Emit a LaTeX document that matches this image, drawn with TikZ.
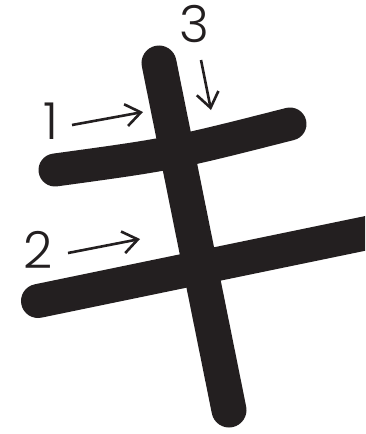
\documentclass[tikz,border=0pt]{standalone}
\usepackage{fontspec}
\setmainfont{Poppins Light}
\usetikzlibrary{arrows.meta}
\definecolor{ink}{HTML}{231F20}
\begin{document}
\begin{tikzpicture}[x=1pt,y=-1pt,
  stroke/.style={line width=34pt, line cap=round, draw=ink},
  pointer/.style={line width=2.6pt, draw=ink, -{Straight Barb[length=15pt,width=22pt]}},
  digit/.style={text=ink, font=\fontsize{51}{51}\selectfont, inner sep=0pt}]
\useasboundingbox (0,0) rectangle (365,434);
\clip (0,0) rectangle (365,434);
% stroke end points
\coordinate (s1a) at (55,170);
\coordinate (s1b) at (290,124);
\coordinate (s2a) at (38,301);
\coordinate (s2b) at (372,232);
\coordinate (s3a) at (159,63);
\coordinate (s3b) at (229,410);
% strokes
\draw[stroke, line width=33pt] (s1a) .. controls (172,154) .. (s1b);
\draw[stroke] (s2a) -- (s2b);
\draw[stroke, line width=35pt] (s3a) -- (s3b);
% labels
\node[digit] (n1) at (51,121) {1};
\node[digit] (n2) at (38,250) {2};
\node[digit] (n3) at (194,24) {3};
% arrow end points
\coordinate (a1s) at (72,125);
\coordinate (a1e) at (143,112);
\coordinate (a2s) at (68,253);
\coordinate (a2e) at (140,239);
\coordinate (a3s) at (201,60);
\coordinate (a3e) at (211,110);
\draw[pointer] (a1s) -- (a1e);
\draw[pointer] (a2s) -- (a2e);
\draw[pointer] (a3s) -- (a3e);
\end{tikzpicture}
\end{document}
